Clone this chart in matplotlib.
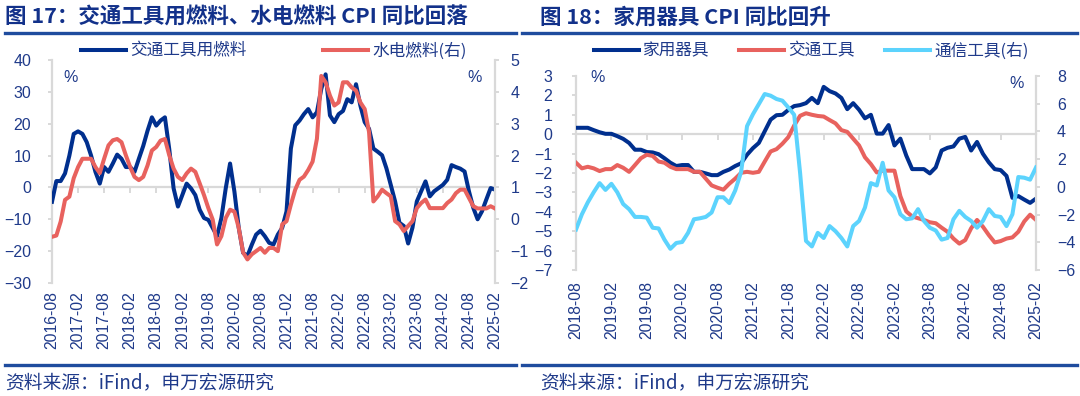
import numpy as np
import matplotlib
matplotlib.use("Agg")
import matplotlib.pyplot as plt
from matplotlib.lines import Line2D
from matplotlib.font_manager import FontProperties

plt.rcParams['font.family'] = ['Liberation Sans', 'Noto Sans CJK SC', 'DejaVu Sans']
CJK = ['Noto Sans CJK SC', 'Liberation Sans', 'DejaVu Sans']

# ---- 图17 data (monthly, 2016-08 .. 2025-02) ----
fuel = [-4.5, 2, 2, 4.4, 10, 16.8, 17.6, 16.8, 14.2, 10,
        4.9, 1.2, 6.4, 4.9, 7.5, 10.3, 9, 6.4, 6.4, 4.9,
        9, 13, 17.8, 22, 19.4, 21, 22, 12, -0.3, -6,
        -2.4, 1.2, -0.3, -2.4, -7, -9.6, -10.2, -12.7, -15.3, -9.6,
        -0.3, 7.5, -1.3, -12.7, -20.5, -21.5, -18, -14.8, -13.6, -15.3,
        -17.4, -17.9, -14.8, -12.7, -7.5, 12.2, 19.5, 21, 23, 24.6,
        22, 23.6, 30.9, 35.5, 22.6, 20.5, 23, 24, 27.7, 26.7,
        32.4, 25.7, 20.5, 18.4, 12.2, 11.2, 10.1, 6, 0.8, -4.4,
        -11.1, -12.1, -17.6, -12.6, -4.4, -1.2, 1.9, -2.8, -1.2, -0.2,
        0.8, 2.4, 7, 6.4, 5.9, 5, -1.2, -6.4, -10, -7.5,
        -3.8, -0.2, -0.7]
utility_fuel = [-0.55, -0.51, -0.07, 0.61, 0.71, 1.29, 1.64, 1.9, 1.9, 1.9,
                1.64, 1.45, 1.9, 2.32, 2.48, 2.52, 2.42, 2.01, 1.64, 1.33,
                1.23, 1.33, 1.69, 2.16, 2.27, 2.47, 2.52, 2.01, 1.59, 1.33,
                1.23, 1.44, 1.59, 1.49, 1.13, 0.76, 0.35, -0.01, -0.79, -0.53,
                0.04, 0.3, 0.24, -0.27, -1.04, -1.26, -1.1, -1.0, -0.9, -1.05,
                -0.9, -0.9, -1.0, -0.16, -0.06, 0.46, 0.93, 1.24, 1.34, 1.55,
                1.81, 2.53, 4.5, 4.3, 3.88, 3.57, 3.67, 4.3, 4.3, 4.14,
                4.04, 3.67, 3.46, 2.74, 0.56, 0.72, 0.93, 0.82, 0.72, -0.06,
                -0.16, -0.37, -0.21, -0.06, 0.35, 0.51, 0.62, 0.35, 0.35, 0.35,
                0.35, 0.51, 0.62, 0.82, 0.93, 0.93, 0.67, 0.41, 0.34, 0.34,
                0.34, 0.41, 0.34]
ticks17 = ['2016-08', '2017-02', '2017-08', '2018-02', '2018-08', '2019-02',
           '2019-08', '2020-02', '2020-08', '2021-02', '2021-08', '2022-02',
           '2022-08', '2023-02', '2023-08', '2024-02', '2024-08', '2025-02']

# ---- 图18 data (monthly, 2018-08 .. 2025-02) ----
appliance = [0.33, 0.33, 0.33, 0.21, 0.1, 0.02, 0.02, -0.1, -0.24, -0.45,
             -0.8, -0.8, -0.92, -0.94, -1.03, -1.24, -1.47, -1.64, -1.59, -1.59,
             -1.94, -1.94, -2.02, -2.11, -2.11, -1.94, -1.82, -1.64, -1.5, -1.06,
             -0.72, -0.45, 0.15, 0.75, 0.98, 1.0, 1.25, 1.45, 1.5, 1.6,
             1.87, 1.6, 2.44, 2.22, 2.1, 1.87, 1.29, 1.6, 1.26, 0.82,
             1.0, 0.03, 0.03, 0.47, -0.58, -0.23, -1.1, -1.8, -1.8, -1.8,
             -2.02, -1.71, -0.84, -0.7, -0.63, -0.23, -0.14, -0.84, -0.4, -1.01,
             -1.45, -1.8, -1.85, -2.15, -3.28, -3.19, -3.37, -3.54, -3.32]
vehicles = [-1.47, -1.76, -1.68, -1.76, -1.9, -1.8, -1.8, -1.59, -1.73, -1.94,
            -1.59, -1.24, -1.06, -1.12, -1.41, -1.47, -1.68, -1.8, -1.8, -1.8,
            -1.94, -1.94, -2.29, -2.64, -2.76, -2.86, -2.55, -2.29, -1.99, -1.94,
            -1.99, -1.94, -1.41, -0.89, -0.77, -0.49, -0.15, 0.45, 0.95, 1.08,
            1.0, 0.94, 0.91, 0.73, 0.56, 0.21, 0.12, -0.23, -0.58, -1.19,
            -1.54, -1.97, -1.88, -1.88, -1.88, -3.19, -3.98, -4.24, -4.33, -4.42,
            -4.54, -4.59, -4.82, -5.03, -5.38, -5.64, -5.46, -4.85, -4.42, -4.77,
            -5.2, -5.58, -5.51, -5.38, -5.32, -5.03, -4.5, -4.15, -4.42]
telecom = [-3.08, -1.98, -1.12, -0.39, 0.27, -0.22, 0.22, -0.39, -1.24, -1.61,
           -2.17, -2.17, -2.22, -2.95, -3.0, -3.81, -4.47, -4.05, -3.98, -3.32,
           -2.34, -2.27, -2.17, -1.85, -0.75, -0.75, -1.17, -0.26, 1.08, 4.38,
           5.24, 5.97, 6.7, 6.58, 6.34, 6.22, 5.73, 5.2, 1.0, -3.9,
           -4.3, -3.32, -3.69, -2.83, -3.2, -3.69, -4.3, -2.83, -2.46, -1.49,
           0.27, 0.1, 1.74, -0.26, -0.75, -1.98, -2.34, -2.27, -1.61, -2.46,
           -2.95, -3.15, -3.81, -3.69, -2.34, -1.73, -2.17, -2.46, -2.95, -2.46,
           -1.61, -2.1, -2.17, -2.83, -1.98, 0.71, 0.66, 0.52, 1.4]
ticks18 = ['2018-08', '2019-02', '2019-08', '2020-02', '2020-08', '2021-02',
           '2021-08', '2022-02', '2022-08', '2023-02', '2023-08', '2024-02',
           '2024-08', '2025-02']

NAVY = '#002F8E'
RED = '#E8625E'
CYAN = '#5CD3FD'
TXT = '#1F3A8A'
GREY = '#D9D9D9'
LINE = '#1F4C9E'

W, H = 1080, 396
fig = plt.figure(figsize=(W / 100, H / 100), dpi=100)


def px(x, y):
    return x / W, 1 - y / H


def setup(ax, axr, n, labels, pad_l, pad_r, lab_pad):
    for s in ['top', 'right']:
        ax.spines[s].set_visible(False)
    for s in ['top', 'left', 'bottom']:
        axr.spines[s].set_visible(False)
    ax.spines['left'].set_color(GREY)
    ax.spines['left'].set_linewidth(1.6)
    axr.spines['right'].set_color(GREY)
    axr.spines['right'].set_linewidth(1.6)
    ax.spines['bottom'].set_position(('data', 0))
    ax.spines['bottom'].set_color(GREY)
    ax.spines['bottom'].set_linewidth(1.6)
    ax.set_xlim(0, n - 1)
    pos = np.arange(0, n, 6)
    ax.set_xticks(pos)
    ax.tick_params(axis='x', direction='out', length=4, width=1.4, color=GREY,
                   labelbottom=False)
    ax.tick_params(axis='y', direction='out', length=3, width=1.4, color=GREY,
                   labelcolor=TXT, labelsize=11.5, pad=pad_l)
    axr.tick_params(axis='y', direction='out', length=3, width=1.4, color=GREY,
                    labelcolor=TXT, labelsize=11.5, pad=pad_r)
    sec = ax.secondary_xaxis(0.0)
    sec.set_xticks(pos, labels=labels, rotation=90)
    sec.tick_params(length=0, pad=lab_pad, labelcolor=TXT, labelsize=11.3)
    sec.spines['bottom'].set_visible(False)


# ---------------- 图17 ----------------
ax1 = fig.add_axes([52 / W, 1 - 283 / H, 443 / W, 223 / H])
ax1r = ax1.twinx()
x1 = np.arange(len(fuel))
ax1.plot(x1, fuel, color=NAVY, lw=2.9, zorder=3, label='交通工具用燃料')
ax1r.plot(x1, utility_fuel, color=RED, lw=2.9, zorder=3, label='水电燃料(右)')
ax1.set_ylim(-30, 40)
ax1.set_yticks(range(-30, 41, 10))
ax1r.set_ylim(-2, 5)
ax1r.set_yticks(range(-2, 6))
setup(ax1, ax1r, len(fuel), ticks17, 12, 8, 6)

# ---------------- 图18 ----------------
ax2 = fig.add_axes([576 / W, 1 - 270 / H, 460 / W, 194 / H])
ax2r = ax2.twinx()
x2 = np.arange(len(appliance))
ax2.plot(x2, appliance, color=NAVY, lw=2.9, zorder=3, label='家用器具')
ax2.plot(x2, vehicles, color=RED, lw=2.9, zorder=3, label='交通工具')
ax2r.plot(x2, telecom, color=CYAN, lw=2.9, zorder=3, label='通信工具(右)')
ax2.set_ylim(-7, 3)
ax2.set_yticks(range(-7, 4))
ax2r.set_ylim(-6, 8)
ax2r.set_yticks(range(-6, 9, 2))
setup(ax2, ax2r, len(appliance), ticks18, 14, 12, 8)

# legends
lp = FontProperties(family=CJK, size=12)
h1 = ax1.get_lines() + ax1r.get_lines()
fig.legend(h1, [h.get_label() for h in h1], loc='center', bbox_to_anchor=px(274, 51),
           ncol=2, frameon=False, handlelength=2.7, handletextpad=0.25,
           columnspacing=4.6, prop=lp, labelcolor=TXT)
h2 = ax2.get_lines() + ax2r.get_lines()
fig.legend(h2, [h.get_label() for h in h2], loc='center', bbox_to_anchor=px(811, 51),
           ncol=3, frameon=False, handlelength=2.7, handletextpad=0.25,
           columnspacing=1.8, prop=lp, labelcolor=TXT)

# % markers
for (x, y) in [(71, 78), (475, 77), (598, 78), (1017, 83)]:
    fig.text(*px(x, y), '%', ha='center', va='center', fontsize=11.5, color=TXT)

# titles, rules and source
fig.text(*px(5, 17), '图 17：交通工具用燃料、水电燃料 CPI 同比回落', family=CJK,
         fontsize=15.5, fontweight='bold', color='#12318A', va='center', ha='left')
fig.text(*px(540, 17), '图 18：家用器具 CPI 同比回升', family=CJK,
         fontsize=15.5, fontweight='bold', color='#12318A', va='center', ha='left')
for (a, b) in [(5, 516), (522, 1077)]:
    fig.add_artist(Line2D([a / W, b / W], [1 - 33 / H] * 2, color=LINE, lw=2.4))
    fig.add_artist(Line2D([a / W, b / W], [1 - 365 / H] * 2, color=LINE, lw=2.4))
for x0 in [5, 540]:
    fig.text(*px(x0, 383), '资料来源：iFind，申万宏源研究', family=CJK,
             fontsize=13.5, color=TXT, va='center', ha='left')

fig.savefig('out.png', dpi=100)
